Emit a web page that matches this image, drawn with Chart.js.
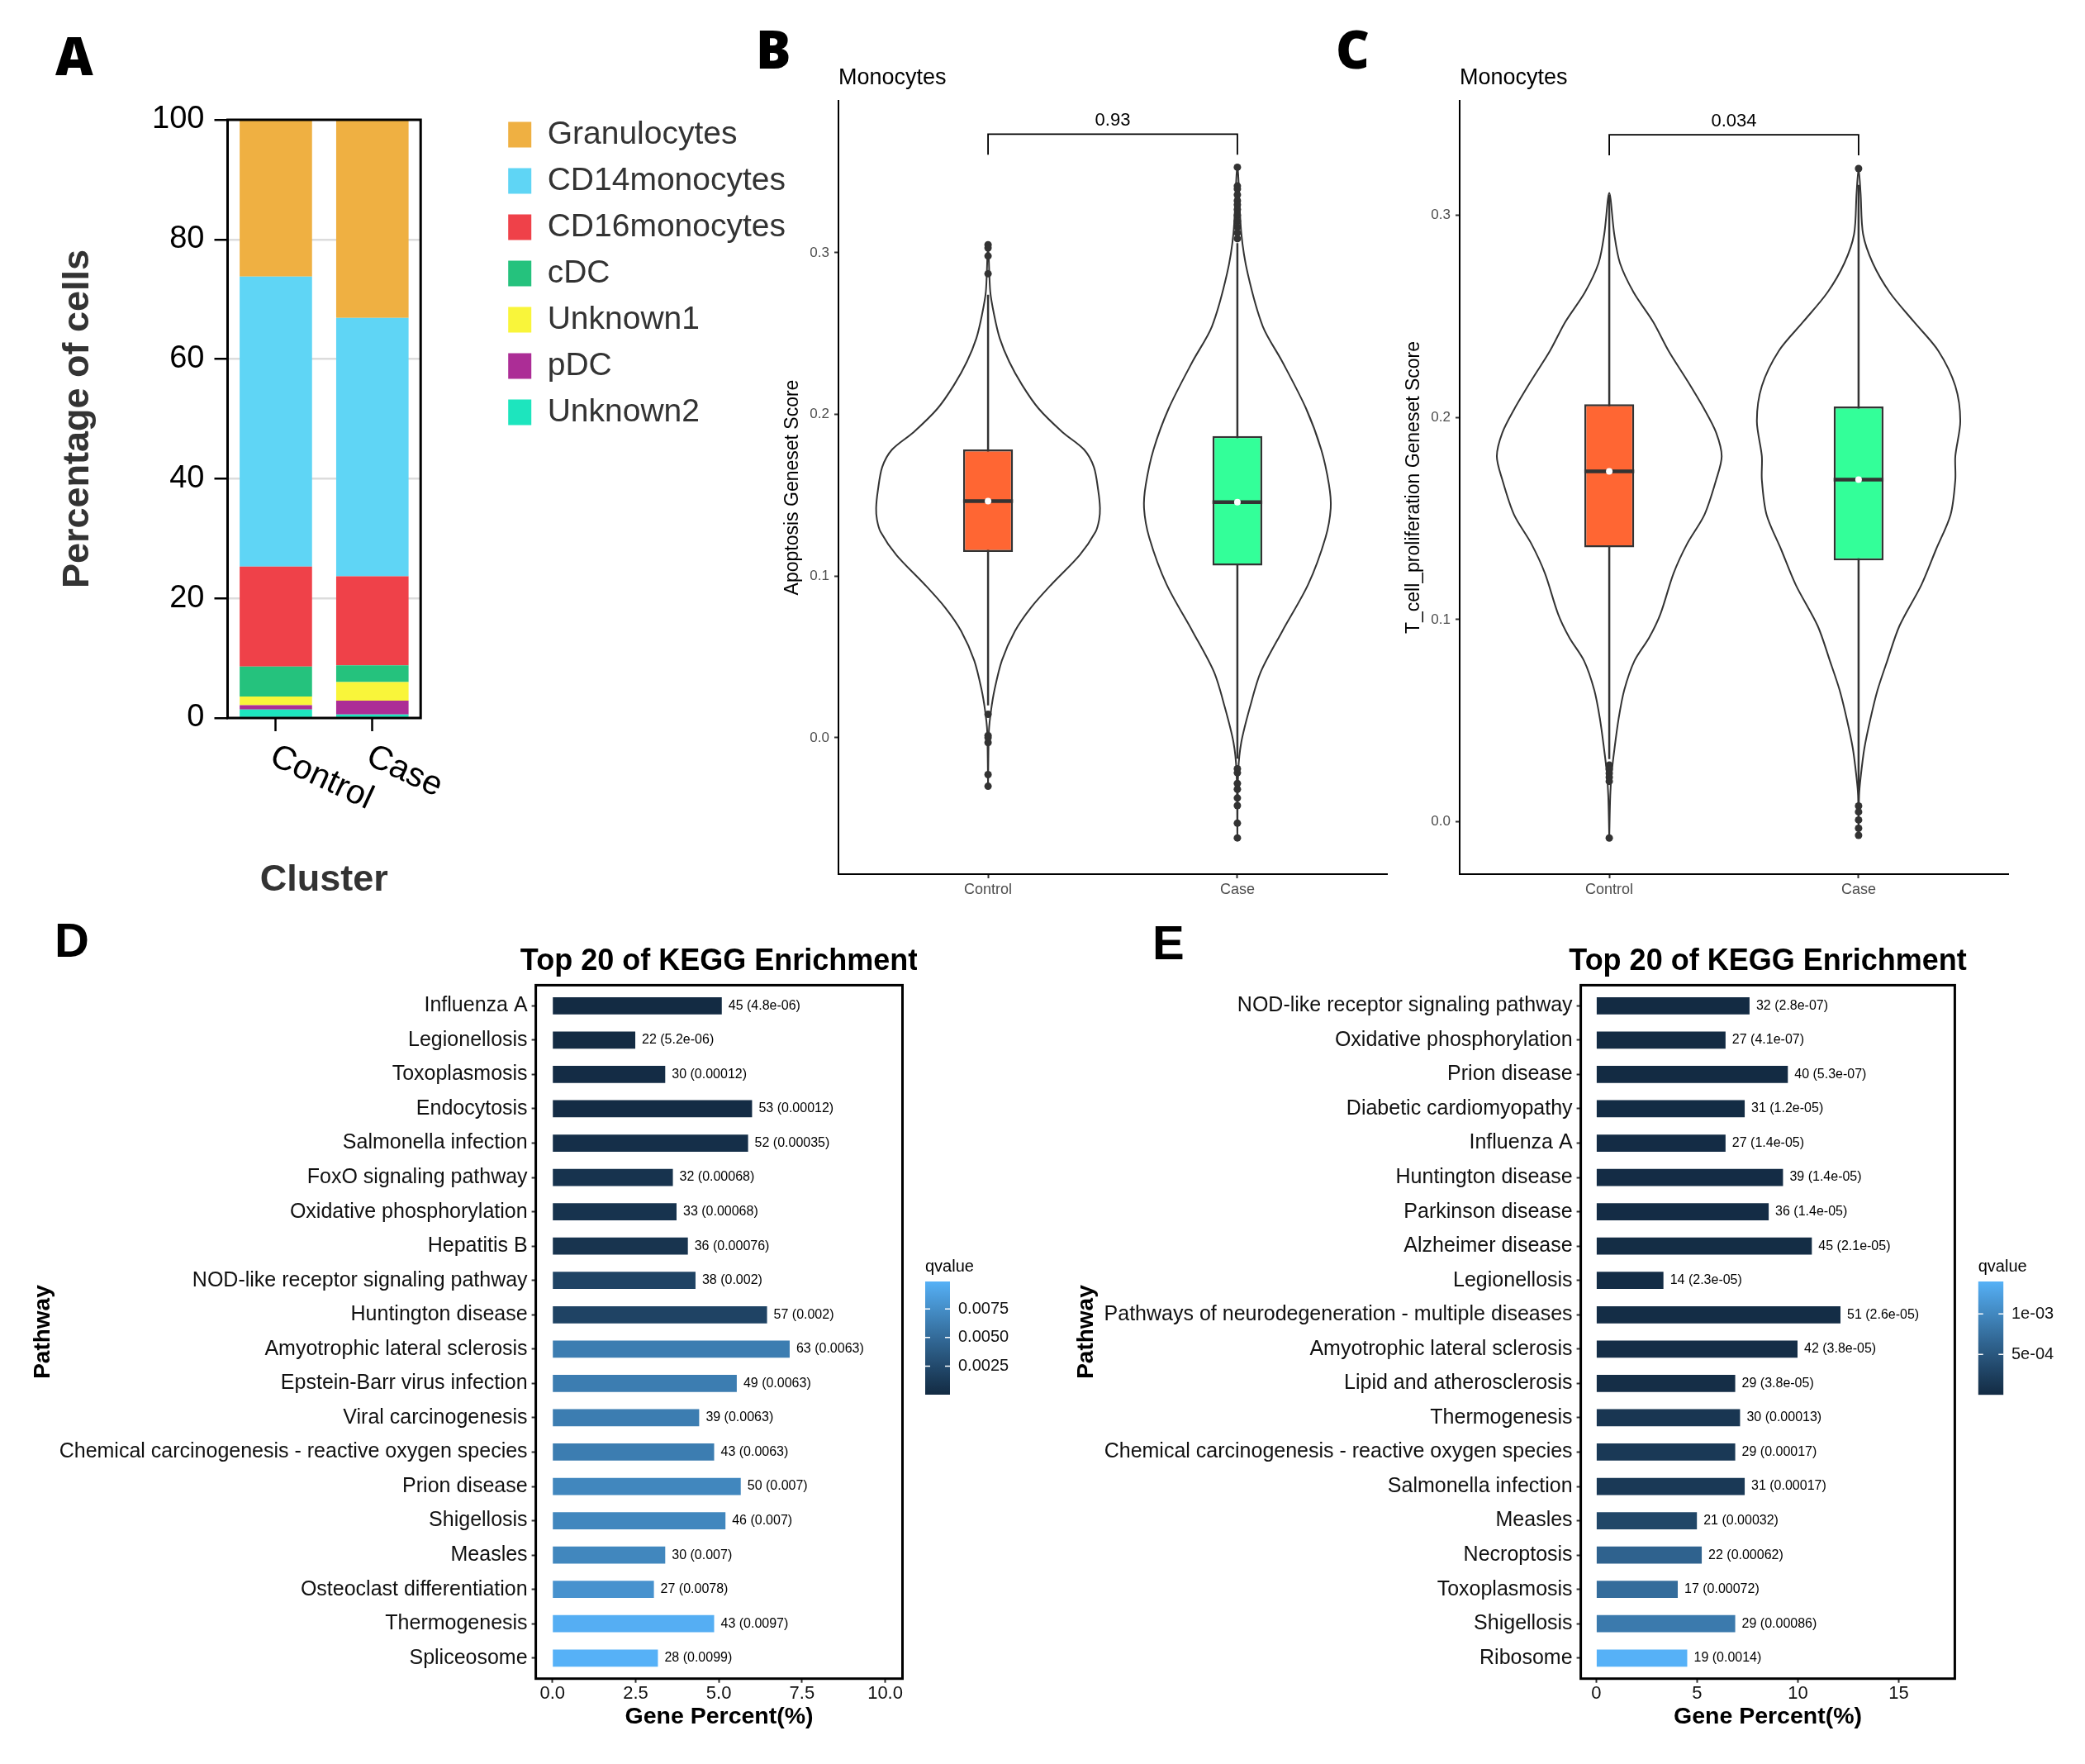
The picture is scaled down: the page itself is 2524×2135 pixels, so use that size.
<!DOCTYPE html>
<html><head><meta charset="utf-8">
<script src="https://cdn.jsdelivr.net/npm/chart.js@4.4.1/dist/chart.umd.min.js"></script>
<style>
html,body{margin:0;padding:0;background:#fff;}
body{width:2524px;height:2135px;position:relative;overflow:hidden;}
.box{position:absolute;}
.lbl{position:absolute;line-height:1;color:#000;z-index:5;}
.os{font-family:'Open Sans','DejaVu Sans',sans-serif;font-weight:800;font-size:63px;}
.ls{font-family:'Liberation Sans',Arial,sans-serif;font-weight:bold;font-size:58px;}
</style></head><body>
<div class="lbl os" style="left:67px;top:35px">A</div>
<div class="lbl os" style="left:915px;top:27px">B</div>
<div class="lbl os" style="left:1617px;top:27px">C</div>
<div class="lbl ls" style="left:66px;top:1109px">D</div>
<div class="lbl ls" style="left:1395px;top:1112px">E</div>

<div class="box" style="left:0;top:0;width:1000px;height:1110px"><canvas id="cA"></canvas></div>
<div class="box" style="left:900px;top:0;width:820px;height:1110px"><canvas id="cB"></canvas></div>
<div class="box" style="left:1600px;top:0;width:924px;height:1110px"><canvas id="cC"></canvas></div>
<div class="box" style="left:0;top:1110px;width:1110px;height:1025px"><canvas id="cD"></canvas></div>
<div class="box" style="left:1250px;top:1110px;width:1140px;height:1025px"><canvas id="cE"></canvas></div>
<div class="box" style="left:1100px;top:1510px;width:150px;height:200px"><canvas id="cDq"></canvas></div>
<div class="box" style="left:2380px;top:1510px;width:144px;height:200px"><canvas id="cEq"></canvas></div>

<script>
// ================= DATA =================
// Panel A
const groups = ['Control', 'Case'];
const cellTypes = ['Unknown2', 'pDC', 'Unknown1', 'cDC', 'CD16monocytes', 'CD14monocytes', 'Granulocytes']; // stacked bottom -> top
const cellColors = ['#1DE5BE', '#AC2D96', '#F9F53A', '#25C27D', '#EF4149', '#5FD5F5', '#EFB042'];
const pctControl = [1.4, 0.75, 1.45, 5.0, 16.7, 48.5, 26.2];
const pctCase = [0.6, 2.3, 3.1, 2.8, 14.9, 43.2, 33.1];
const yTicksA = [0, 20, 40, 60, 80, 100];

// Panel B (Apoptosis geneset score) - violin outlines: score levels and half-widths
const vApopCtrlY = [-0.030, 0.0043, 0.0170, 0.0297, 0.0478, 0.0659, 0.0804, 0.0949, 0.1130, 0.1275, 0.1348, 0.1420, 0.1529, 0.1674, 0.1783, 0.1891, 0.2036, 0.2181, 0.2326, 0.2471, 0.2616, 0.2761, 0.305];
const vApopCtrlW = [0, 0.0035, 0.0121, 0.026, 0.0555, 0.1075, 0.1716, 0.2548, 0.3674, 0.4315, 0.4454, 0.4489, 0.4419, 0.4246, 0.3847, 0.2981, 0.2028, 0.1369, 0.0849, 0.0468, 0.0243, 0.0087, 0];
const vApopCaseY = [-0.062, -0.0210, -0.0029, 0.0188, 0.0406, 0.0659, 0.0949, 0.1239, 0.1420, 0.1565, 0.1783, 0.2036, 0.2326, 0.2543, 0.2870, 0.3123, 0.353];
const vApopCaseW = [0, 0.0035, 0.0156, 0.0503, 0.0936, 0.1802, 0.2842, 0.3536, 0.3744, 0.3674, 0.3362, 0.2756, 0.1802, 0.1023, 0.0416, 0.0156, 0];
const apopQ1 = [0.1149, 0.1065];
const apopMed = [0.1464, 0.1457];
const apopQ3 = [0.1783, 0.1866];
const apopLo = [0.020, -0.013];
const apopHi = [0.274, 0.306];
const apopOutCtrl = [0.305, 0.303, 0.298, 0.287, 0.0145, 0.0014, 0.0, -0.003, -0.0228, -0.030];
const apopOutCase = [0.3529, 0.3413, 0.3395, 0.3359, 0.3322, 0.3297, 0.3268, 0.3232, 0.3196, 0.3159, 0.3123, 0.3087, -0.0192, -0.0217, -0.0283, -0.0319, -0.0373, -0.042, -0.0529, -0.062];
const apopBracket = [0.3606, 0.3734];
const apopP = '0.93';

// Panel C (T_cell_proliferation geneset score)
const vTcellCtrlY = [-0.008, 0.0130, 0.0246, 0.0362, 0.0506, 0.0651, 0.0796, 0.0911, 0.1027, 0.1229, 0.1374, 0.1519, 0.1692, 0.1808, 0.1924, 0.2039, 0.2184, 0.2329, 0.2473, 0.2618, 0.2763, 0.2907, 0.311];
const vTcellCtrlW = [0, 0.004, 0.010, 0.021, 0.037, 0.060, 0.101, 0.160, 0.205, 0.258, 0.312, 0.382, 0.429, 0.451, 0.429, 0.382, 0.312, 0.238, 0.176, 0.098, 0.043, 0.020, 0];
const vTcellCaseY = [-0.0067, 0.0130, 0.0217, 0.0362, 0.0506, 0.0651, 0.0796, 0.0969, 0.1172, 0.1345, 0.1519, 0.1692, 0.1808, 0.1982, 0.2155, 0.2329, 0.2473, 0.2618, 0.2763, 0.2907, 0.3110, 0.3231];
const vTcellCaseW = [0, 0.002, 0.008, 0.023, 0.047, 0.076, 0.115, 0.164, 0.252, 0.310, 0.369, 0.388, 0.388, 0.408, 0.388, 0.320, 0.222, 0.125, 0.057, 0.018, 0.008, 0];
const tcellQ1 = [0.1357, 0.1293];
const tcellMed = [0.1733, 0.1692];
const tcellQ3 = [0.2065, 0.2054];
const tcellLo = [0.031, 0.016];
const tcellHi = [0.310, 0.315];
const tcellOutCtrl = [0.028, 0.026, 0.024, 0.022, 0.020, -0.008];
const tcellOutCase = [0.3231, 0.0078, 0.0049, 0.0009, -0.0032, -0.0067];
const tcellBracket = [0.3296, 0.3398];
const tcellP = '0.034';
const scoreTicks = [0, 0.1, 0.2, 0.3];
const boxColors = ['#FF6633', '#33FF99'];

// Panel D (KEGG, left)
const pathD = ['Influenza A', 'Legionellosis', 'Toxoplasmosis', 'Endocytosis', 'Salmonella infection', 'FoxO signaling pathway', 'Oxidative phosphorylation', 'Hepatitis B', 'NOD-like receptor signaling pathway', 'Huntington disease', 'Amyotrophic lateral sclerosis', 'Epstein-Barr virus infection', 'Viral carcinogenesis', 'Chemical carcinogenesis - reactive oxygen species', 'Prion disease', 'Shigellosis', 'Measles', 'Osteoclast differentiation', 'Thermogenesis', 'Spliceosome'];
const countD = [45, 22, 30, 53, 52, 32, 33, 36, 38, 57, 63, 49, 39, 43, 50, 46, 30, 27, 43, 28];
const pctD = [5.09, 2.49, 3.39, 6.00, 5.88, 3.62, 3.73, 4.07, 4.30, 6.45, 7.13, 5.54, 4.41, 4.86, 5.66, 5.20, 3.39, 3.05, 4.86, 3.17];
const qD = ['4.8e-06', '5.2e-06', '0.00012', '0.00012', '0.00035', '0.00068', '0.00068', '0.00076', '0.002', '0.002', '0.0063', '0.0063', '0.0063', '0.0063', '0.007', '0.007', '0.007', '0.0078', '0.0097', '0.0099'];
const xTickValD = [0, 2.5, 5, 7.5, 10];
const xTickLblD = ['0.0', '2.5', '5.0', '7.5', '10.0'];
const qTickValD = [0.0025, 0.005, 0.0075];
const qTickLblD = ['0.0025', '0.0050', '0.0075'];

// Panel E (KEGG, right)
const pathE = ['NOD-like receptor signaling pathway', 'Oxidative phosphorylation', 'Prion disease', 'Diabetic cardiomyopathy', 'Influenza A', 'Huntington disease', 'Parkinson disease', 'Alzheimer disease', 'Legionellosis', 'Pathways of neurodegeneration - multiple diseases', 'Amyotrophic lateral sclerosis', 'Lipid and atherosclerosis', 'Thermogenesis', 'Chemical carcinogenesis - reactive oxygen species', 'Salmonella infection', 'Measles', 'Necroptosis', 'Toxoplasmosis', 'Shigellosis', 'Ribosome'];
const countE = [32, 27, 40, 31, 27, 39, 36, 45, 14, 51, 42, 29, 30, 29, 31, 21, 22, 17, 29, 19];
const pctE = [7.60, 6.41, 9.50, 7.36, 6.41, 9.26, 8.55, 10.69, 3.33, 12.11, 9.98, 6.89, 7.13, 6.89, 7.36, 4.99, 5.23, 4.04, 6.89, 4.51];
const qE = ['2.8e-07', '4.1e-07', '5.3e-07', '1.2e-05', '1.4e-05', '1.4e-05', '1.4e-05', '2.1e-05', '2.3e-05', '2.6e-05', '3.8e-05', '3.8e-05', '0.00013', '0.00017', '0.00017', '0.00032', '0.00062', '0.00072', '0.00086', '0.0014'];
const xTickValE = [0, 5, 10, 15];
const xTickLblE = ['0', '5', '10', '15'];
const qTickValE = [0.0005, 0.001];
const qTickLblE = ['5e-04', '1e-03'];

// ================= HELPERS =================
const FONT = '"Liberation Sans", Arial, Helvetica, sans-serif';
Chart.defaults.font.family = FONT;
Chart.defaults.animation = false;

function hexToRgb(h) { return [parseInt(h.slice(1, 3), 16), parseInt(h.slice(3, 5), 16), parseInt(h.slice(5, 7), 16)]; }
function rgb2lab(c) {
  const f = v => { v /= 255; return v <= 0.04045 ? v / 12.92 : Math.pow((v + 0.055) / 1.055, 2.4); };
  const R = f(c[0]), G = f(c[1]), B = f(c[2]);
  const X = (R * 0.4124564 + G * 0.3575761 + B * 0.1804375) / 0.95047;
  const Y = (R * 0.2126729 + G * 0.7151522 + B * 0.0721750);
  const Z = (R * 0.0193339 + G * 0.1191920 + B * 0.9503041) / 1.08883;
  const g = t => t > 0.008856 ? Math.cbrt(t) : (7.787 * t + 16 / 116);
  const fx = g(X), fy = g(Y), fz = g(Z);
  return [116 * fy - 16, 500 * (fx - fy), 200 * (fy - fz)];
}
function lab2rgb(l) {
  const fy = (l[0] + 16) / 116, fx = fy + l[1] / 500, fz = fy - l[2] / 200;
  const inv = t => { const t3 = t * t * t; return t3 > 0.008856 ? t3 : (t - 16 / 116) / 7.787; };
  const X = inv(fx) * 0.95047, Y = inv(fy), Z = inv(fz) * 1.08883;
  const R = X * 3.2404542 - Y * 1.5371385 - Z * 0.4985314;
  const G = -X * 0.9692660 + Y * 1.8760108 + Z * 0.0415560;
  const B = X * 0.0556434 - Y * 0.2040259 + Z * 1.0572252;
  const g = v => { v = v <= 0.0031308 ? 12.92 * v : 1.055 * Math.pow(v, 1 / 2.4) - 0.055; return Math.round(Math.max(0, Math.min(1, v)) * 255); };
  return 'rgb(' + g(R) + ',' + g(G) + ',' + g(B) + ')';
}
const LOW = rgb2lab(hexToRgb('#132B43')), HIGH = rgb2lab(hexToRgb('#56B1F7'));
function ramp(t) { t = Math.max(0, Math.min(1, t)); return lab2rgb(LOW.map((v, k) => v + (HIGH[k] - v) * t)); }

function violinPts(c, ys, ws) {
  const L = ys.map((y, i) => ({ x: c - ws[i], y }));
  const R = ys.map((y, i) => ({ x: c + ws[i], y })).reverse();
  return L.concat(R.slice(1));
}

const frame = {
  id: 'frame',
  afterDatasetsDraw(chart, args, opts) {
    const { ctx, chartArea: a } = chart;
    ctx.save(); ctx.strokeStyle = '#000'; ctx.lineWidth = opts.width || 3;
    ctx.strokeRect(a.left, a.top, a.right - a.left, a.bottom - a.top);
    ctx.restore();
  }
};
const rotLabels = {
  id: 'rotLabels',
  afterDraw(chart) {
    const s = chart.scales.x, ctx = chart.ctx;
    ctx.save(); ctx.font = '41px ' + FONT; ctx.fillStyle = '#000'; ctx.textAlign = 'left'; ctx.textBaseline = 'top';
    groups.forEach((g, i) => {
      ctx.save(); ctx.translate(s.getPixelForTick(i) + 4, chart.chartArea.bottom + 26); ctx.rotate(25 * Math.PI / 180);
      ctx.fillText(g, 0, 0); ctx.restore();
    });
    ctx.restore();
  }
};
const pval = {
  id: 'pval',
  afterDatasetsDraw(chart, args, opts) {
    const { ctx, scales } = chart;
    ctx.save(); ctx.font = '22px ' + FONT; ctx.fillStyle = '#000'; ctx.textAlign = 'center'; ctx.textBaseline = 'middle';
    ctx.fillText(opts.text, scales.x.getPixelForValue(1.5), scales.y.getPixelForValue(opts.y) - 16);
    ctx.restore();
  }
};
const kegg = {
  id: 'kegg',
  afterDatasetsDraw(chart, args, opts) {
    const { ctx, chartArea: a } = chart;
    ctx.save(); ctx.fillStyle = '#000';
    ctx.font = 'bold 36px ' + FONT; ctx.textAlign = 'center'; ctx.textBaseline = 'middle';
    ctx.fillText(opts.title, (a.left + a.right) / 2, opts.titleY);
    ctx.font = '16px ' + FONT; ctx.textAlign = 'left';
    chart.getDatasetMeta(0).data.forEach((bar, i) => ctx.fillText(opts.labels[i], bar.x + 8, bar.y));
    ctx.restore();
  }
};
const cbTicks = {
  id: 'cbTicks',
  afterDatasetsDraw(chart, args, opts) {
    const { ctx, chartArea: a, scales } = chart;
    ctx.save(); ctx.strokeStyle = '#fff'; ctx.lineWidth = 1.5;
    opts.ticks.forEach(v => {
      const y = scales.y.getPixelForValue(v);
      ctx.beginPath(); ctx.moveTo(a.left, y); ctx.lineTo(a.left + 6, y); ctx.moveTo(a.right - 6, y); ctx.lineTo(a.right, y); ctx.stroke();
    });
    ctx.restore();
  }
};

// ================= PANEL A =================
const LEG_FONT = 39, LEG_BOX = 28, LEG_PAD = 17;
const measureCtx = document.createElement('canvas').getContext('2d');
measureCtx.font = LEG_FONT + 'px ' + FONT;
const legTextW = Math.max(...cellTypes.map(t => measureCtx.measureText(t).width));
const legendWidth = Math.ceil(LEG_PAD + LEG_BOX + LEG_FONT / 2 + legTextW + 12);
const padRightA = Math.max(0, 1000 - 596 - legendWidth);

new Chart(document.getElementById('cA'), {
  type: 'bar',
  data: {
    labels: groups,
    datasets: cellTypes.map((name, i) => ({
      label: name, data: [pctControl[i], pctCase[i]], backgroundColor: cellColors[i],
      borderWidth: 0, barPercentage: 0.75, categoryPercentage: 1
    }))
  },
  options: {
    responsive: true, maintainAspectRatio: false, devicePixelRatio: 1, animation: false,
    layout: { padding: { left: 67.4, top: 126.5, right: padRightA, bottom: 17.6 } },
    plugins: {
      legend: {
        position: 'right', align: 'start', reverse: true, maxWidth: legendWidth,
        labels: { font: { size: LEG_FONT }, color: '#333', boxWidth: LEG_BOX, boxHeight: 31, padding: LEG_PAD }
      },
      tooltip: { enabled: false },
      frame: { width: 3 }
    },
    scales: {
      x: {
        stacked: true, offset: true,
        grid: { display: true, offset: false, drawOnChartArea: false, drawTicks: true, tickLength: 16, tickColor: '#000', tickWidth: 2.5 },
        border: { display: false }, ticks: { display: false },
        title: { display: true, text: 'Cluster', color: '#333', font: { size: 45, weight: 'bold' }, padding: 0 },
        afterFit: s => { s.height = 223.4; }
      },
      y: {
        stacked: true, min: 0, max: 100,
        afterBuildTicks: s => { s.ticks = yTicksA.map(v => ({ value: v })); },
        grid: {
          color: c => (c.tick && (c.tick.value === 0 || c.tick.value === 100)) ? 'rgba(0,0,0,0)' : '#DCDCDC',
          lineWidth: 2.5, tickColor: '#000', tickLength: 16, tickWidth: 2.5
        },
        border: { display: false },
        ticks: { color: '#000', font: { size: 38 }, padding: 12 },
        title: { display: true, text: 'Percentage of cells', color: '#333', font: { size: 45, weight: 'bold' }, padding: 0 },
        afterFit: s => { s.width = 208.1; }
      },
      xTop: { type: 'linear', position: 'top', display: true, grid: { display: false }, ticks: { display: false }, border: { display: false }, afterFit: s => { s.height = 18.5; } },
      yR: { type: 'linear', position: 'right', display: true, grid: { display: false }, ticks: { display: false }, border: { display: false }, afterFit: s => { s.width = 89; } }
    }
  },
  plugins: [frame, rotLabels]
});

// ================= PANELS B & C =================
function violinChart(id, o) {
  const centers = [1, 2];
  const ds = [];
  [o.vCtrl, o.vCase].forEach((v, i) => ds.push({
    type: 'scatter', data: violinPts(centers[i], v[0], v[1]), showLine: true, tension: 0.3,
    borderColor: '#333', borderWidth: 2, pointRadius: 0, fill: false, order: 6
  }));
  centers.forEach((c, i) => ds.push({
    type: 'scatter', data: [{ x: c, y: o.lo[i] }, { x: c, y: o.hi[i] }], showLine: true, tension: 0,
    borderColor: '#333', borderWidth: 2.5, pointRadius: 0, order: 5
  }));
  ds.push({
    type: 'bar', data: centers.map((c, i) => ({ x: c, y: [o.q1[i], o.q3[i]] })),
    backgroundColor: boxColors, borderColor: '#333', borderWidth: 2.5, borderSkipped: false,
    barPercentage: 0.2, categoryPercentage: 1, order: 4
  });
  centers.forEach((c, i) => ds.push({
    type: 'scatter', data: [{ x: c - 0.1, y: o.med[i] }, { x: c + 0.1, y: o.med[i] }], showLine: true, tension: 0,
    borderColor: '#333', borderWidth: 4.5, pointRadius: 0, order: 3
  }));
  [o.outCtrl, o.outCase].forEach((arr, i) => ds.push({
    type: 'scatter', data: arr.map(y => ({ x: centers[i], y })), pointRadius: 4.5,
    pointBackgroundColor: '#333', pointBorderWidth: 0, order: 3
  }));
  ds.push({
    type: 'scatter', data: centers.map((c, i) => ({ x: c, y: o.med[i] })), pointRadius: 4,
    pointBackgroundColor: '#fff', pointBorderWidth: 0, order: 2
  });
  ds.push({
    type: 'scatter', data: [{ x: 1, y: o.br[0] }, { x: 1, y: o.br[1] }, { x: 2, y: o.br[1] }, { x: 2, y: o.br[0] }],
    showLine: true, tension: 0, borderColor: '#000', borderWidth: 1.8, pointRadius: 0, order: 1
  });
  new Chart(document.getElementById(id), {
    type: 'scatter',
    data: { datasets: ds },
    options: {
      responsive: true, maintainAspectRatio: false, devicePixelRatio: 1, animation: false,
      layout: { padding: o.pad },
      plugins: {
        legend: { display: false }, tooltip: { enabled: false },
        title: { display: true, text: 'Monocytes', align: 'start', fullSize: false, color: '#000', font: { size: 27, weight: 'normal' }, padding: { top: 0, bottom: 10.8 } },
        pval: { text: o.p, y: o.br[1] }
      },
      scales: {
        x: {
          type: 'linear', min: 0.4, max: 2.6, offset: false,
          afterBuildTicks: s => { s.ticks = centers.map(v => ({ value: v })); },
          ticks: { callback: (v, i) => groups[i], color: '#4D4D4D', font: { size: 18 }, padding: 3, autoSkip: false, maxRotation: 0, minRotation: 0 },
          grid: { offset: false, drawOnChartArea: false, tickLength: 5, tickColor: '#333', tickWidth: 2 },
          border: { color: '#000', width: 2 },
          afterFit: s => { s.height = 40; }
        },
        y: {
          type: 'linear', min: o.ymin, max: o.ymax,
          afterBuildTicks: s => { s.ticks = scoreTicks.map(v => ({ value: v })); },
          ticks: { callback: v => Number(v).toFixed(1), color: '#4D4D4D', font: { size: 17 }, padding: 6 },
          grid: { drawOnChartArea: false, tickLength: 5, tickColor: '#333', tickWidth: 2 },
          border: { color: '#000', width: 2 },
          title: { display: true, text: o.ytitle, color: '#000', font: { size: 23 }, padding: 0 },
          afterFit: s => { s.width = 68.8; }
        }
      }
    },
    plugins: [pval]
  });
}

violinChart('cB', {
  vCtrl: [vApopCtrlY, vApopCtrlW], vCase: [vApopCaseY, vApopCaseW],
  q1: apopQ1, med: apopMed, q3: apopQ3, lo: apopLo, hi: apopHi,
  outCtrl: apopOutCtrl, outCase: apopOutCase, br: apopBracket, p: apopP,
  ymin: -0.0844, ymax: 0.394, ytitle: 'Apoptosis Geneset Score',
  pad: { left: 46.2, right: 41, top: 78.8, bottom: 12 }
});
violinChart('cC', {
  vCtrl: [vTcellCtrlY, vTcellCtrlW], vCase: [vTcellCaseY, vTcellCaseW],
  q1: tcellQ1, med: tcellMed, q3: tcellQ3, lo: tcellLo, hi: tcellHi,
  outCtrl: tcellOutCtrl, outCase: tcellOutCase, br: tcellBracket, p: tcellP,
  ymin: -0.0259, ymax: 0.3566, ytitle: 'T_cell_proliferation Geneset Score',
  pad: { left: 98.2, right: 93, top: 78.8, bottom: 12 }
});

// ================= PANELS D & E =================
function keggChart(id, o) {
  const qNum = o.q.map(Number);
  const qmin = Math.min(...qNum), qmax = Math.max(...qNum);
  const colors = qNum.map(q => ramp((q - qmin) / (qmax - qmin)));
  new Chart(document.getElementById(id), {
    type: 'bar',
    data: {
      datasets: [{
        data: o.pct.map((v, i) => ({ x: v, y: i + 1 })), backgroundColor: colors,
        borderWidth: 0, barPercentage: 0.5, categoryPercentage: 1
      }]
    },
    options: {
      indexAxis: 'y',
      responsive: true, maintainAspectRatio: false, devicePixelRatio: 1, animation: false,
      layout: { padding: o.pad },
      plugins: {
        legend: { display: false }, tooltip: { enabled: false }, frame: { width: 3 },
        kegg: { title: 'Top 20 of KEGG Enrichment', titleY: 54, labels: o.counts.map((c, i) => c + ' (' + o.q[i] + ')') }
      },
      scales: {
        x: {
          type: 'linear', min: o.xmin, max: o.xmax,
          afterBuildTicks: s => { s.ticks = o.xv.map(v => ({ value: v })); },
          ticks: { callback: (v, i) => o.xl[i], color: '#111', font: { size: 22, lineHeight: 1 }, padding: 2, autoSkip: false, maxRotation: 0, minRotation: 0 },
          grid: { offset: false, drawOnChartArea: false, tickLength: 5, tickColor: '#333', tickWidth: 2 },
          border: { display: false },
          title: { display: true, text: 'Gene Percent(%)', color: '#000', font: { size: 28.5, weight: 'bold' }, padding: 0 },
          afterFit: s => { s.height = 63.2; }
        },
        y: {
          type: 'linear', min: 0.4, max: 20.6, reverse: true, offset: false,
          afterBuildTicks: s => { s.ticks = o.names.map((n, i) => ({ value: i + 1 })); },
          ticks: { callback: (v, i) => o.names[i], color: '#111', font: { size: 25 }, padding: 5, autoSkip: false },
          grid: { offset: false, drawOnChartArea: false, tickLength: 5, tickColor: '#333', tickWidth: 2 },
          border: { display: false },
          title: { display: true, text: 'Pathway', color: '#000', font: { size: 28, weight: 'bold' }, padding: 0 },
          afterFit: s => { s.width = o.yw; }
        }
      }
    },
    plugins: [frame, kegg]
  });
  return [qmin, qmax];
}

function colorbar(id, o) {
  new Chart(document.getElementById(id), {
    type: 'bar',
    data: {
      labels: ['q'],
      datasets: [{
        data: [[o.qmin, o.qmax]], borderWidth: 0, barPercentage: 1, categoryPercentage: 1,
        backgroundColor: c => {
          const a = c.chart.chartArea;
          if (!a) return '#132B43';
          const g = c.chart.ctx.createLinearGradient(0, a.bottom, 0, a.top);
          for (let k = 0; k <= 20; k++) g.addColorStop(k / 20, ramp(k / 20));
          return g;
        }
      }]
    },
    options: {
      responsive: true, maintainAspectRatio: false, devicePixelRatio: 1, animation: false,
      layout: { padding: o.pad },
      plugins: {
        legend: { display: false }, tooltip: { enabled: false },
        title: { display: true, text: 'qvalue', align: 'start', fullSize: true, color: '#000', font: { size: 20, weight: 'normal' }, padding: { top: 0, bottom: 6 } },
        cbTicks: { ticks: o.ticks }
      },
      scales: {
        x: { display: false },
        y: {
          position: 'right', min: o.qmin, max: o.qmax,
          afterBuildTicks: s => { s.ticks = o.ticks.map(v => ({ value: v })); },
          ticks: { callback: (v, i) => o.lbls[i], color: '#111', font: { size: 20 }, padding: o.tp, autoSkip: false },
          grid: { display: false, drawTicks: false },
          border: { display: false },
          afterFit: s => { s.width = o.yw; }
        }
      }
    },
    plugins: [cbTicks]
  });
}

const rangeD = keggChart('cD', {
  names: pathD, counts: countD, pct: pctD, q: qD, xv: xTickValD, xl: xTickLblD,
  xmin: -0.5, xmax: 10.52, yw: 613.4,
  pad: { left: 35.2, right: 17.5, top: 82.4, bottom: 40.1 }
});
const rangeE = keggChart('cE', {
  names: pathE, counts: countE, pct: pctE, q: qE, xv: xTickValE, xl: xTickLblE,
  xmin: -0.77, xmax: 17.78, yw: 614.8,
  pad: { left: 48.8, right: 23.6, top: 82.4, bottom: 40.1 }
});
colorbar('cDq', { qmin: rangeD[0], qmax: rangeD[1], ticks: qTickValD, lbls: qTickLblD, tp: 10, yw: 100, pad: { left: 20, top: 11, right: 0, bottom: 10 } });
colorbar('cEq', { qmin: rangeE[0], qmax: rangeE[1], ticks: qTickValE, lbls: qTickLblE, tp: 9.7, yw: 98.7, pad: { left: 14.7, top: 11, right: 0, bottom: 10 } });
</script>
</body></html>
